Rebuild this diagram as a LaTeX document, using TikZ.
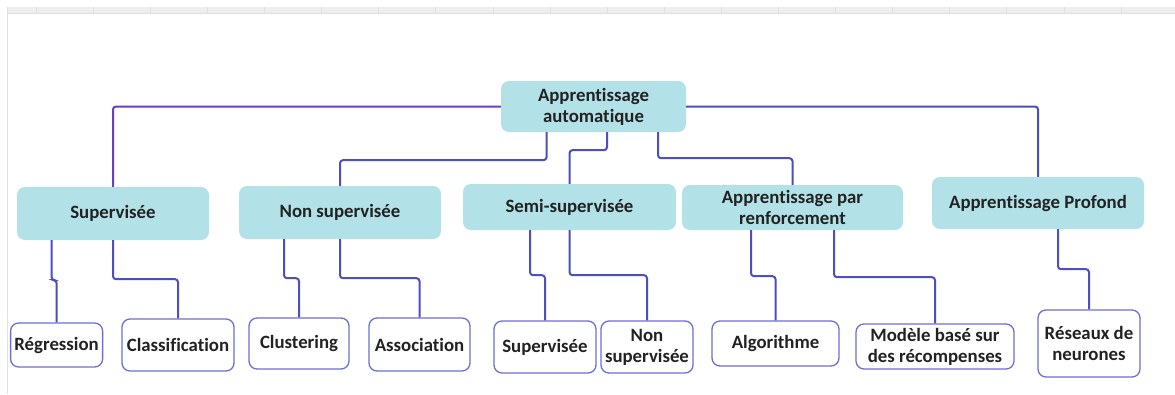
\documentclass[tikz,border=0pt]{standalone}
\usepackage{fontspec}
\setmainfont{Carlito}[Ligatures={NoCommon}]
\begin{document}
\definecolor{boxfill}{HTML}{B2E2E8}
\definecolor{childedge}{HTML}{6E6ED6}
\definecolor{linkblue}{HTML}{4B4FC0}
\definecolor{linkpurple}{HTML}{6A3DC6}
\definecolor{ink}{HTML}{222222}
\definecolor{gridband}{HTML}{EEEEEE}
\definecolor{gridline}{HTML}{E0E0E0}
\begin{tikzpicture}[x=1pt,y=-1pt,
  every node/.style={font=\fontsize{18.8}{21}\selectfont\bfseries, text=ink, inner sep=0pt, align=center},
  topic/.style={fill=boxfill, rounded corners=8pt},
  leaf/.style={draw=childedge, line width=1.3pt, fill=white, rounded corners=8pt},
  link/.style={draw=linkblue, line width=2pt, rounded corners=3pt},
  toplink/.style={draw=linkpurple, line width=2pt, rounded corners=3pt}]
% canvas and the faint grid band along the top
\fill[white] (0,0) rectangle (1175,394);
\useasboundingbox (0,0) rectangle (1175,394);
\fill[gridband] (7,7) rectangle (1175,13);
\draw[gridline, line width=0.8pt] (7,13) -- (1175,13);
\draw[gridline, line width=0.8pt] (7,7) -- (7,394);
\foreach \k in {0,...,20} {
  \draw[gridline, line width=0.6pt] ({36+57.1*\k},7) -- ({36+57.1*\k},13);
}

% root
\node[topic, minimum width=185pt, minimum height=51pt] (root) at (593.5,106.5) {Apprentissage\\automatique};

% first level
\node[topic, minimum width=192pt, minimum height=53pt] (sup) at (113,213.5) {Supervisée};
\node[topic, minimum width=202pt, minimum height=53pt] (nonsup) at (340,212.5) {Non supervisée};
\node[topic, minimum width=213pt, minimum height=46pt] (semi) at (569.5,207) {Semi-supervisée};
\node[topic, minimum width=221pt, minimum height=45pt] (renf) at (792.5,207.5) {Apprentissage par\\renforcement};
\node[topic, minimum width=212pt, minimum height=52pt] (prof) at (1038,203) {Apprentissage Profond};

% second level
\node[leaf, minimum width=92pt, minimum height=44pt] (reg) at (56.6,345) {Régression};
\node[leaf, minimum width=112pt, minimum height=52pt] (class) at (178,345) {Classification};
\node[leaf, minimum width=100pt, minimum height=51pt] (clust) at (299,343.5) {Clustering};
\node[leaf, minimum width=101pt, minimum height=53pt] (assoc) at (419.5,344.5) {Association};
\node[leaf, minimum width=102pt, minimum height=52pt] (semisup) at (545,347) {Supervisée};
\node[leaf, minimum width=92pt, minimum height=52pt] (seminon) at (647,347) {Non\\supervisée};
\node[leaf, minimum width=127pt, minimum height=45pt] (algo) at (775.5,343.5) {Algorithme};
\node[leaf, minimum width=158pt, minimum height=45pt] (modele) at (935,346.5) {Modèle basé sur\\des récompenses};
\node[leaf, minimum width=102pt, minimum height=67pt] (reseaux) at (1089,343.5) {Réseaux de\\neurones};

% links from the root
\draw[toplink] (root.west) -| (sup.north);
\draw[link] (root.east) -| (prof.north);
\draw[link] ([xshift=-47pt]root.south) -- ++(0,28) -| (nonsup.north);
\draw[link] ([xshift=13.5pt]root.south) -- ++(0,18) -| (semi.north);
\draw[link] ([xshift=64.5pt]root.south) -- ++(0,26) -| (renf.north);

% links to the second level
\draw[link] ([xshift=-61.3pt]sup.south) -- ++(0,40) -| (reg.north);
\draw[link] (sup.south) -- ++(0,39) -| (class.north);
\draw[link] ([xshift=-56pt]nonsup.south) -- ++(0,39) -| (clust.north);
\draw[link] (nonsup.south) -- ++(0,39) -| (assoc.north);
\draw[link] ([xshift=-39.5pt]semi.south) -- ++(0,45) -| (semisup.north);
\draw[link] (semi.south) -- ++(0,45) -| (seminon.north);
\draw[link] ([xshift=-41.5pt]renf.south) -- ++(0,46) -| (algo.north);
\draw[link] ([xshift=41.5pt]renf.south) -- ++(0,47) -| (modele.north);
\draw[link] ([xshift=20pt]prof.south) -- ++(0,40) -| (reseaux.north);
\end{tikzpicture}
\end{document}
